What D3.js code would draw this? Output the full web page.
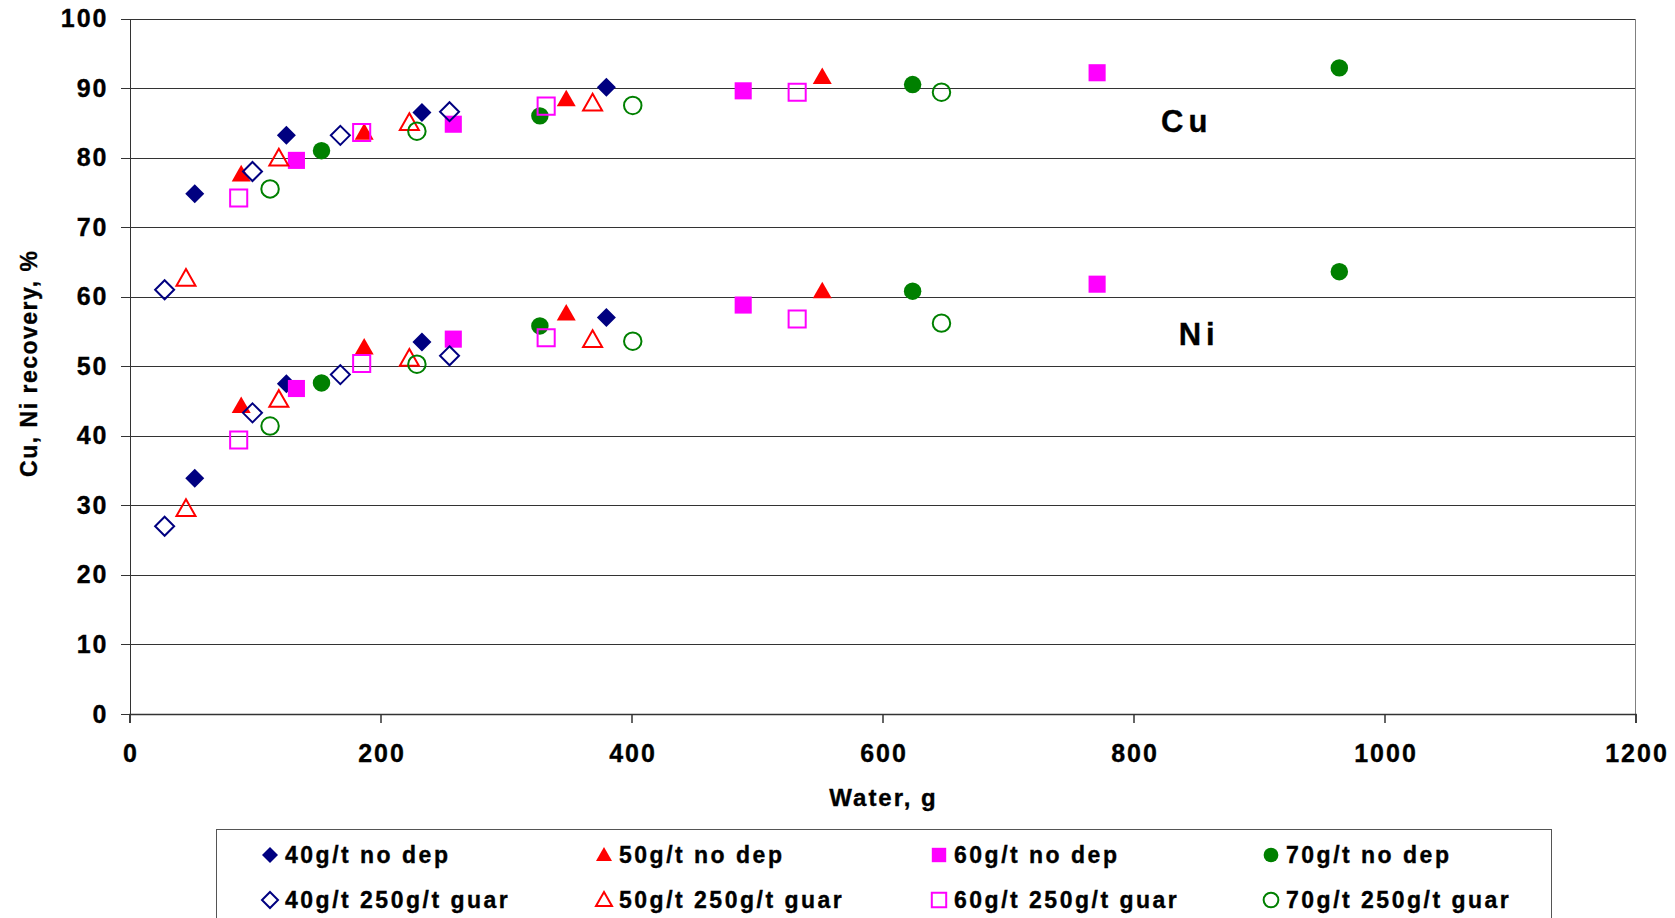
<!DOCTYPE html>
<html>
<head>
<meta charset="utf-8">
<script src="https://cdn.jsdelivr.net/npm/d3@7"></script>
<style>
  html, body { margin: 0; padding: 0; background: #fff; }
  svg { display: block; }
  svg text { font-family: "Liberation Sans", Arial, sans-serif; font-weight: bold; fill: #000; stroke: #000; stroke-width: 0.35px; }
</style>
</head>
<body>
<svg id="chart" width="1675" height="918"></svg>
<script>
// series, in legend order (row by row)
const seriesLabels = [
  "40g/t no dep", "50g/t no dep", "60g/t no dep", "70g/t no dep",
  "40g/t 250g/t guar", "50g/t 250g/t guar", "60g/t 250g/t guar", "70g/t 250g/t guar"
]
const seriesShapes = ["diamond", "triangle", "square", "circle", "diamond", "triangle", "square", "circle"]
const seriesFilled = [true, true, true, true, false, false, false, false]
const seriesColors = ["#000080", "#ff0000", "#ff00ff", "#008000", "#000080", "#ff0000", "#ff00ff", "#008000"]

// water added, g
const water = [
  [52, 125, 233, 380],
  [89, 187, 348, 552],
  [133, 258, 489, 771],
  [153, 327, 624, 964],
  [28, 98, 168, 255],
  [45, 119, 223, 369],
  [87, 185, 332, 532],
  [112, 229, 401, 647]
]

// Cu recovery, %
const cuRecovery = [
  [74.8, 83.2, 86.5, 90.1],
  [77.6, 83.6, 88.4, 91.6],
  [79.6, 84.8, 89.6, 92.2],
  [81.0, 86.0, 90.5, 92.9],
  [61.0, 78.0, 83.2, 86.6],
  [62.6, 79.9, 85.0, 87.8],
  [74.2, 83.6, 87.4, 89.4],
  [75.5, 83.8, 87.5, 89.4]
]

// Ni recovery, %
const niRecovery = [
  [33.9, 47.5, 53.5, 57.0],
  [44.3, 52.7, 57.6, 60.8],
  [46.8, 53.9, 58.8, 61.8],
  [47.6, 55.8, 60.8, 63.6],
  [27.0, 43.3, 48.8, 51.5],
  [29.5, 45.2, 51.1, 53.8],
  [39.4, 50.4, 54.1, 56.8],
  [41.4, 50.3, 53.6, 56.2]
]

const xTicks = [0, 200, 400, 600, 800, 1000, 1200]
const yTicks = [0, 10, 20, 30, 40, 50, 60, 70, 80, 90, 100]

const width = 1675
const margin = {top: 18.5, right: 39.5, bottom: 204, left: 129.5}
const plotW = width - margin.left - margin.right
const plotH = 918 - margin.top - margin.bottom

const x = d3.scaleLinear().domain([0, 1200]).range([0, plotW])
const y = d3.scaleLinear().domain([0, 100]).range([plotH, 0])

const svg = d3.select("#chart")
const g = svg.append("g").attr("transform", `translate(${margin.left}, ${margin.top})`)

// marker outline centred on 0,0
function shape(kind, s) {
  const h = s / 2
  if (kind === "diamond") return `M0,${-h}L${h},0L0,${h}L${-h},0Z`
  if (kind === "square") return `M${-h * 0.9},${-h * 0.9}H${h * 0.9}V${h * 0.9}H${-h * 0.9}Z`
  if (kind === "triangle") return `M0,${-h}L${h},${h * 0.75}L${-h},${h * 0.75}Z`
  return d3.arc()({innerRadius: 0, outerRadius: h * 0.92, startAngle: 0, endAngle: 2 * Math.PI})
}

function marker(sel, i, s) {
  sel
    .attr("d", shape(seriesShapes[i], s))
    .attr("fill", seriesFilled[i] ? seriesColors[i] : "none")
    .attr("stroke", seriesColors[i])
    .attr("stroke-width", seriesFilled[i] ? 0 : 2)
}

// gridlines
g.append("g")
  .attr("class", "grid")
  .call(d3.axisLeft(y).tickValues(yTicks.slice(1)).tickSize(-plotW).tickFormat(""))
  .call((a) => a.select(".domain").remove())
  .selectAll("line")
  .attr("stroke", "#333")
  .attr("shape-rendering", "crispEdges")

// right edge of plot area
g.append("line")
  .attr("x1", plotW).attr("x2", plotW)
  .attr("y1", 0).attr("y2", plotH)
  .attr("stroke", "#808080")
  .attr("shape-rendering", "crispEdges")

// y axis
g.append("g")
  .call(d3.axisLeft(y).tickValues(yTicks).tickSize(9).tickPadding(12))
  .call((a) => a.selectAll("path, line").attr("stroke", "#333").attr("shape-rendering", "crispEdges"))
  .selectAll("text")
  .attr("font-size", 25)
  .attr("letter-spacing", 2)

// x axis
g.append("g")
  .attr("transform", `translate(0, ${plotH})`)
  .call(d3.axisBottom(x).tickValues(xTicks).tickFormat(d3.format("d")).tickSize(9).tickPadding(21))
  .call((a) => a.selectAll("path, line").attr("stroke", "#333").attr("stroke-width", 1.5))
  .selectAll("text")
  .attr("font-size", 25)
  .attr("letter-spacing", 2)
  .attr("dx", 1)

// axis titles
svg.append("text")
  .attr("x", margin.left + x(600) + 1)
  .attr("y", 806)
  .attr("text-anchor", "middle")
  .attr("font-size", 24)
  .attr("letter-spacing", 2)
  .text("Water, g")

svg.append("text")
  .attr("transform", `translate(37, ${margin.top + y(50) - 3}) rotate(-90)`)
  .attr("text-anchor", "middle")
  .attr("font-size", 23)
  .attr("letter-spacing", 1.5)
  .text("Cu, Ni recovery, %")

// element labels
g.append("text")
  .attr("x", x(822)).attr("y", y(83.7))
  .attr("font-size", 31).attr("letter-spacing", 5)
  .text("Cu")
g.append("text")
  .attr("x", x(836)).attr("y", y(53.0))
  .attr("font-size", 31).attr("letter-spacing", 5)
  .text("Ni")

// points
seriesLabels.forEach((name, i) => {
  const pts = water[i].flatMap((w, k) => [[w, cuRecovery[i][k]], [w, niRecovery[i][k]]])
  g.append("g")
    .selectAll("path")
    .data(pts)
    .join("path")
    .attr("transform", (d) => `translate(${x(d[0])}, ${y(d[1])})`)
    .call(marker, i, 19)
})

// legend
const legend = svg.append("g").attr("transform", "translate(216, 829)")
legend.append("rect")
  .attr("x", 0.5).attr("y", 0.5)
  .attr("width", 1335).attr("height", 120)
  .attr("fill", "#fff")
  .attr("stroke", "#555")

const colX = [54, 388, 723, 1055]
seriesLabels.forEach((name, i) => {
  const item = legend.append("g")
    .attr("transform", `translate(${colX[i % 4]}, ${i < 4 ? 26 : 71})`)
  item.append("path").call(marker, i, 16)
  item.append("text")
    .attr("x", 15).attr("y", 8)
    .attr("font-size", 23)
    .attr("letter-spacing", 2.5)
    .text(name)
})
</script>
</body>
</html>
